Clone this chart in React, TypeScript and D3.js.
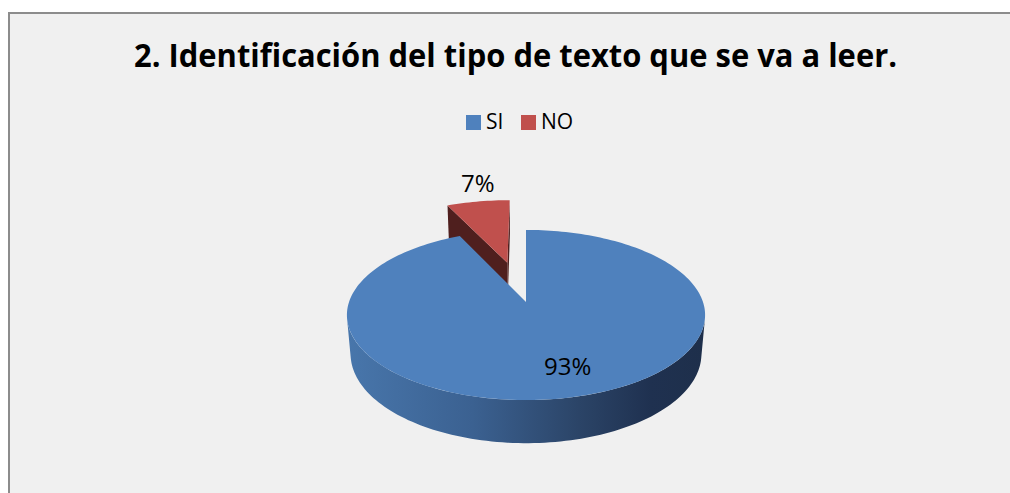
import React from "react";
import * as d3 from "d3";

// ---- data ----
const categories = ["SI", "NO"];
const values = [93, 7];
const colors = ["#4F81BD", "#C0504D"];
const sideColors = ["#2f4d75", "#4f1f1e"];
const explode = [0, 0.52];
const title = "2. Identificación del tipo de texto que se va a leer.";

// ---- layout / camera ----
const W = 1010;
const H = 493;
const cx = 526;
const cy = 302;
const focal = 1023;
const dist = 5.78;
const tilt = (28 * Math.PI) / 180;
const thick = 0.252;
const sT = Math.sin(tilt);
const cT = Math.cos(tilt);
const cam = [0, dist * sT, dist * cT];

function project(x: number, y: number, z: number): [number, number] {
  const v = z * sT - y * cT;
  const d = dist - (z * cT + y * sT);
  return [cx + (focal * x) / d, cy + (focal * v) / d];
}

type Slice = { a0: number; a1: number; ex: number; ez: number; i: number };

function pt(s: Slice, a: number, r: number, y: number): [number, number] {
  return project(r * Math.sin(a) + s.ex, y, -r * Math.cos(a) + s.ez);
}

const line = d3.line<[number, number]>();

function arcPts(s: Slice, a0: number, a1: number, y: number) {
  const n = Math.max(2, Math.ceil(((a1 - a0) / (2 * Math.PI)) * 240));
  return d3.range(n + 1).map((k) => pt(s, a0 + ((a1 - a0) * k) / n, 1, y));
}

export default function App() {
  const pie = d3
    .pie<number>()
    .sort(null)
    .startAngle(0)
    .endAngle(2 * Math.PI)(values);

  const slices: Slice[] = pie.map((p, i) => {
    const mid = (p.startAngle + p.endAngle) / 2;
    return {
      a0: p.startAngle,
      a1: p.endAngle,
      ex: explode[i] * Math.sin(mid),
      ez: -explode[i] * Math.cos(mid),
      i,
    };
  });

  // farther slices first
  const order = [...slices].sort((a, b) => {
    const za = -Math.cos((a.a0 + a.a1) / 2) + a.ez;
    const zb = -Math.cos((b.a0 + b.a1) / 2) + b.ez;
    return za - zb;
  });

  const elems: React.ReactNode[] = [];
  order.forEach((s) => {
    const i = s.i;
    // cut faces
    const faces: { a: number; n: number[] }[] = [
      { a: s.a0, n: [-Math.cos(s.a0), 0, -Math.sin(s.a0)] },
      { a: s.a1, n: [Math.cos(s.a1), 0, Math.sin(s.a1)] },
    ];
    if (s.a1 - s.a0 < 2 * Math.PI - 1e-6) {
      faces.forEach((f, k) => {
        const dot =
          f.n[0] * (cam[0] - s.ex) + f.n[1] * cam[1] + f.n[2] * (cam[2] - s.ez);
        if (dot > 0) {
          const quad = [
            project(s.ex, 0, s.ez),
            pt(s, f.a, 1, 0),
            pt(s, f.a, 1, -thick),
            project(s.ex, -thick, s.ez),
          ] as [number, number][];
          elems.push(
            <path key={`cut${i}-${k}`} d={line(quad) + "Z"} fill={sideColors[i]} />
          );
        }
      });
    }
    // outer wall, visible runs
    const n = 360;
    const vis: boolean[] = [];
    const angs: number[] = [];
    for (let k = 0; k <= n; k++) {
      const a = s.a0 + ((s.a1 - s.a0) * k) / n;
      const px = Math.sin(a) + s.ex;
      const pz = -Math.cos(a) + s.ez;
      const dot = Math.sin(a) * (cam[0] - px) - Math.cos(a) * (cam[2] - pz);
      vis.push(dot > 0);
      angs.push(a);
    }
    let start = -1;
    for (let k = 0; k <= n + 1; k++) {
      const v = k <= n && vis[k];
      if (v && start < 0) start = k;
      if (!v && start >= 0) {
        const b0 = angs[start];
        const b1 = angs[k - 1];
        const top = arcPts(s, b0, b1, 0);
        const bot = arcPts(s, b0, b1, -thick).reverse();
        elems.push(
          <path
            key={`wall${i}-${k}`}
            d={line([...top, ...bot]) + "Z"}
            fill={i === 0 ? "url(#sideGrad)" : sideColors[i]}
          />
        );
        start = -1;
      }
    }
    // top face
    const topPts = [project(s.ex, 0, s.ez), ...arcPts(s, s.a0, s.a1, 0)];
    elems.push(<path key={`top${i}`} d={line(topPts) + "Z"} fill={colors[i]} />);
  });

  // labels
  const labelK = [0.72, 1.36];
  const labelNudge = [(-4.4 * Math.PI) / 180, (2.6 * Math.PI) / 180];
  const labels = slices.map((s) => {
    const mid = (s.a0 + s.a1) / 2 + labelNudge[s.i];
    const [x, y] = pt(s, mid, labelK[s.i], 0);
    const pct = Math.round((values[s.i] / d3.sum(values)) * 100);
    return (
      <text
        key={`lab${s.i}`}
        x={x}
        y={y}
        textAnchor="middle"
        dominantBaseline="central"
        fontFamily="'Open Sans', sans-serif"
        fontSize={24}
        fill="#000"
      >
        {pct}%
      </text>
    );
  });

  // legend
  const legX = 466;
  const legY = 115;
  const sw = 15;
  const legStep = [0, 55];

  return (
    <svg
      width={W}
      height={H}
      style={{ position: "absolute", left: 0, top: 0 }}
    >
      <defs>
        <linearGradient
          id="sideGrad"
          gradientUnits="userSpaceOnUse"
          x1={cx - 178}
          x2={cx + 178}
          y1={0}
          y2={0}
        >
          <stop offset="0" stopColor="#4876ab" />
          <stop offset="0.35" stopColor="#3b6191" />
          <stop offset="0.65" stopColor="#2b4467" />
          <stop offset="0.85" stopColor="#1f3150" />
          <stop offset="1" stopColor="#1e2f4b" />
        </linearGradient>
      </defs>
      <rect x={0} y={0} width={W} height={H} fill="#ffffff" />
      <rect
        x={9}
        y={13}
        width={W + 10}
        height={H + 10}
        fill="#f0f0f0"
        stroke="#8c8c8c"
        strokeWidth={2}
      />
      <text
        x={515.5}
        y={67}
        textAnchor="middle"
        fontFamily="'Open Sans', sans-serif"
        fontWeight="bold"
        fontSize={33}
        textLength={763}
        lengthAdjust="spacingAndGlyphs"
        fill="#000"
      >
        {title}
      </text>
      {categories.map((c, i) => (
        <g key={c} transform={`translate(${legX + legStep[i]},${legY})`}>
          <rect width={sw} height={sw} fill={colors[i]} />
          <text
            x={sw + 5}
            y={sw - 1}
            fontFamily="'Open Sans', sans-serif"
            fontSize={21}
            fill="#000"
          >
            {c}
          </text>
        </g>
      ))}
      {elems}
      {labels}
    </svg>
  );
}
